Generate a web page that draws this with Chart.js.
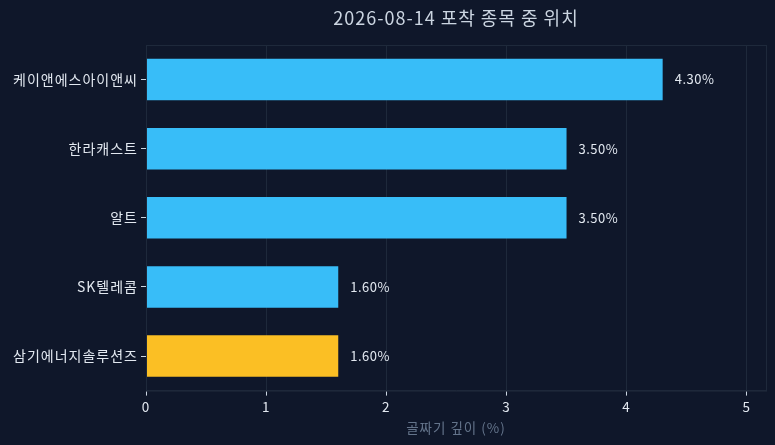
<!DOCTYPE html>
<html>
<head>
<meta charset="utf-8">
<script src="https://cdn.jsdelivr.net/npm/chart.js@4/dist/chart.umd.min.js"></script>
<style>
  html, body { margin: 0; padding: 0; background: #0f172a; }
  #wrap { width: 775px; height: 445px; }
</style>
</head>
<body>
<div id="wrap"><canvas id="chart"></canvas></div>
<script>
const titleText = "2026-08-14 포착 종목 중 위치";
const stocks = ["케이앤에스아이앤씨", "한라캐스트", "알트", "SK텔레콤", "삼기에너지솔루션즈"];
const depths = [4.3, 3.5, 3.5, 1.6, 1.6];
const barColors = ["#38bdf8", "#38bdf8", "#38bdf8", "#38bdf8", "#fbbf24"];
const xTicks = [0, 1, 2, 3, 4, 5];

const FONT = "'Noto Sans CJK KR', 'Noto Sans', sans-serif";
const gridColor = "#1e293b";
const textColor = "#e2e8f0";

// the reference text is a little more loosely spaced
const spacing = {
  id: "spacing",
  beforeDraw(chart) { chart.ctx.letterSpacing = "1px"; }
};

// frame, centred title and value labels
const decor = {
  id: "decor",
  afterDraw(chart) {
    const { ctx, chartArea: a } = chart;
    ctx.save();
    ctx.strokeStyle = gridColor;
    ctx.lineWidth = 1;
    ctx.strokeRect(a.left + 0.5, a.top + 0.5, a.right - a.left, a.bottom - a.top);

    ctx.letterSpacing = "1px";
    ctx.fillStyle = "#cbd5e1";
    ctx.font = "18px " + FONT;
    ctx.textAlign = "center";
    ctx.textBaseline = "middle";
    ctx.fillText(titleText, (a.left + a.right) / 2, 18);

    ctx.letterSpacing = "0.5px";
    ctx.fillStyle = textColor;
    ctx.font = "13px " + FONT;
    ctx.textAlign = "left";
    chart.getDatasetMeta(0).data.forEach((bar, i) => {
      ctx.fillText(depths[i].toFixed(2) + "%", bar.x + 12, bar.y);
    });
    ctx.restore();
  }
};

new Chart(document.getElementById("chart"), {
  type: "bar",
  data: {
    labels: stocks,
    datasets: [{
      data: depths,
      backgroundColor: barColors,
      categoryPercentage: 0.6,
      barPercentage: 1.0
    }]
  },
  options: {
    indexAxis: "y",
    responsive: true,
    maintainAspectRatio: false,
    animation: false,
    layout: { padding: { top: 45, right: 9, left: 0, bottom: 5 } },
    plugins: {
      legend: { display: false },
      tooltip: { enabled: false }
    },
    scales: {
      x: {
        min: 0,
        max: 5.16,
        afterBuildTicks: (scale) => {
          scale.ticks = xTicks.map((v) => ({ value: v }));
        },
        grid: { color: gridColor, tickColor: "#cbd5e1", tickLength: 5 },
        border: { color: gridColor },
        ticks: { color: textColor, font: { family: FONT, size: 13.5 }, padding: 3 },
        title: {
          display: true,
          text: "골짜기 깊이 (%)",
          color: "#64748b",
          font: { family: FONT, size: 13.5 },
          padding: { top: 2 }
        }
      },
      y: {
        afterFit: (scale) => { scale.width = 146; },
        grid: { drawOnChartArea: false, offset: false, tickColor: "#cbd5e1", tickLength: 5 },
        border: { color: gridColor },
        ticks: { color: textColor, font: { family: FONT, size: 14 }, padding: 3 }
      }
    }
  },
  plugins: [spacing, decor]
});
</script>
</body>
</html>
